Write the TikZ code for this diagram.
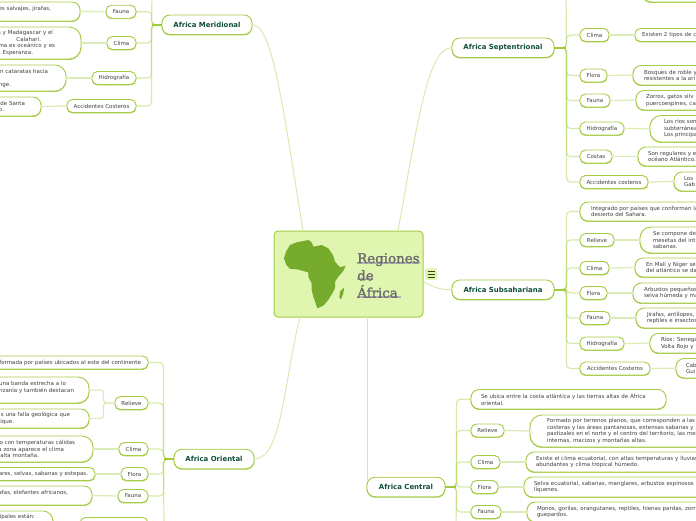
\documentclass[tikz,border=0pt]{standalone}
\usepackage{fontspec}
\usetikzlibrary{calc}
\setmainfont{DejaVu Sans}
\newfontfamily\ttlfont[FakeBold=1.5]{DejaVu Serif}
\definecolor{edge}{HTML}{A6CC47}
\definecolor{spine}{HTML}{B4D869}
\definecolor{twig}{HTML}{DCECB9}
\definecolor{stubc}{HTML}{A0CA3A}
\definecolor{rootfill}{HTML}{DFF5B0}
\definecolor{mapc}{HTML}{76AB2B}
\definecolor{txt}{HTML}{404040}
\definecolor{maintxt}{HTML}{0F4D3A}
\tikzset{
  x=1pt,y=-1pt,
  base/.style={draw=edge,line width=.9pt,fill=white,inner sep=0pt,text=txt,
     preaction={draw=edge,line width=.9pt,transform canvas={yshift=-.5pt}},
     font=\fontsize{5.5}{6.5}\selectfont},
  small/.style={base,minimum height=13pt,rounded corners=5.5pt,align=center},
  mainn/.style={base,minimum height=19.5pt,rounded corners=8pt,text=maintxt,
     font=\fontsize{6.95}{8}\selectfont\bfseries},
  bigbox/.style={base,align=left},
  br/.style={draw=spine,opacity=.55,line width=1.2pt,rounded corners=4pt},
  stub/.style={draw=stubc,line width=1.8pt},
  twigl/.style={draw=twig,line width=1.3pt},
  curve/.style={draw=twig!90!spine,line width=1pt}
}
\newcommand\snode[5]{\node[small,minimum width={(#3-#2)*1pt}] (#1) at ({(#2+#3)/2},#4) {#5};}
\newcommand\mnode[5]{\node[mainn,minimum width={(#3-#2)*1pt}] (#1) at ({(#2+#3)/2},#4) {#5};}
% name, x0, x1, y0, y1, text x, lines
\newcommand\xbox[7]{%
  \pgfmathsetmacro\tw{#3-#2-2*(#6-#2)}%
  \pgfmathsetmacro\rr{min(12,(#5-#4)*.42)}%
  \node[bigbox,minimum width={(#3-#2)*1pt},minimum height={(#5-#4)*1pt},rounded corners=\rr pt,text width=\tw pt]
    (#1) at ({(#2+#3)/2},{(#4+#5)/2}) {#7};}
\newcommand\rl[2]{\makebox[\dimexpr#1pt+36pt\relax][r]{#2}}
\newcommand\lbox[5]{\xbox{#1}{-40}{#2}{#3}{#4}{-36}{#5}}
\newcommand\rbox[6]{\xbox{#1}{#2}{740}{#3}{#4}{#5}{#6}}
\newcommand\brR[3]{\draw[br] (#1.east) -- ++(#3,0) |- (#2.west);}
\newcommand\brL[3]{\draw[br] (#1.west) -- ++(-#3,0) |- (#2.east);}
\newcommand\twR[2]{\draw[twigl] (#1.east) -- (#2.west);}
\newcommand\twL[2]{\draw[twigl] (#1.west) -- (#2.east);}
\begin{document}
\begin{tikzpicture}
\useasboundingbox (0,0) rectangle (696,520);
\clip (0,0) rectangle (696,520);
% root
\node[draw=edge,line width=1pt,fill=rootfill,rounded corners=4pt,minimum width=149pt,minimum height=86pt,inner sep=0pt] (root) at (348.5,274) {};
\fill[mapc,rounded corners=.6pt] (290,245) -- (296.7,242.3) -- (308.3,240) -- (311.7,242.3) -- (313.3,246.7) -- (321.7,245) -- (328.3,248.3) -- (333.3,255.7) -- (335,261.7) -- (340,267.3) -- (345.7,265.7) -- (343.3,271) -- (338.3,276.7) -- (335,281.7) -- (335,288.3) -- (331.7,294.3) -- (328.3,300) -- (323.3,305.7) -- (317.3,308.3) -- (315.7,303.3) -- (313.3,296.7) -- (311.7,290) -- (311.7,283.3) -- (308.3,276.7) -- (308.3,272.3) -- (303.3,271) -- (297.3,269.3) -- (290,269) -- (286,264.3) -- (284,258.3) -- (286,251.7) -- cycle;
\fill[mapc,rounded corners=.4pt] (344.3,287.3) -- (343.3,293.3) -- (341,299.3) -- (339.3,297.7) -- (340,291.7) -- cycle;
\foreach \a/\b/\c in {357/420/261.5,357/373/278,357/401/296}{\fill[black!30] (\a,\c) rectangle (\b,\c+2);}
\node[text=black!58,align=left,anchor=north west,inner sep=0pt,font=\fontsize{13.4}{17.3}\ttlfont] (title) at (357,253) {Regiones\\de\\África};
\node[draw=none,fill=rootfill,rounded corners=2pt,minimum width=12pt,minimum height=11.5pt,inner sep=0pt] (menu) at (431,274) {};
\foreach \c in {271,274,277}{\draw[black!60!mapc,line width=.8pt] ($(menu.center)+(-3.5,\c-274)$) -- ($(menu.center)+(3.5,\c-274)$);}
% meridional
\mnode{M}{162}{252}{24.7}{Africa Meridional}
\coordinate (Mtop) at (152,-8);
\snode{M1}{106}{136}{11.7}{Fauna}
\snode{M2}{107}{136}{43}{Clima}
\snode{M3}{92}{136}{78}{Hidrografía}
\snode{M4}{67}{136}{106}{Accidentes Costeros}
\lbox{M1a}{80}{2}{21}{\rl{51}{es salvajes, jirafas,}\\ \mbox{}}
\lbox{M2a}{81}{27}{59}{\rl{53}{s y Madagascar y el}\\\rl{41}{Calahari.}\\\rl{55}{ma es oceánico y es}\\\rl{33}{a Esperanza.}}
\lbox{M3a}{66}{65}{91}{\rl{48}{n cataratas hacia}\\\mbox{}\\\rl{11}{nge.}}
\lbox{M4a}{41}{97}{116}{\rl{25}{de Santa}\\\rl{4}{o.}}
\foreach \c in {M1,M2,M3,M4}{\brL{M}{\c}{10}}
\draw[br] (M.west) -- ++(-10,0) -- (Mtop);
\draw[stub] (M.west) -- ++(-10,0);
\twL{M1}{M1a}\twL{M2}{M2a}\twL{M3}{M3a}\twL{M4}{M4a}
% septentrional
\mnode{S}{452}{554}{47.7}{Africa Septentrional}
\coordinate (Stop) at (566,-8);
\snode{S1}{580}{609}{35}{Clima}
\snode{S2}{580}{607}{75.5}{Flora}
\snode{S3}{580}{610}{100.5}{Fauna}
\snode{S4}{580}{624}{128.5}{Hidrografía}
\snode{S5}{580}{612}{156.5}{Costas}
\snode{S6}{580}{648}{182}{Accidentes costeros}
\rbox{S0a}{642}{-20}{2}{652}{}
\rbox{S1a}{635}{28.5}{41.5}{642}{Existen 2 tipos de c}
\rbox{S2a}{633}{65.5}{85}{644}{Bosques de roble y\\resistentes a la ari}
\rbox{S3a}{636}{90.5}{110}{646}{Zorros, gatos silv\\puercoespines, ca}
\rbox{S4a}{650}{115.5}{142}{664}{Los ríos son\\subterránea\\Los principa}
\rbox{S5a}{638}{147}{166}{648}{Son regulares y e\\océano Atlántico.}
\rbox{S6a}{674}{172}{191}{684}{Los\\Gab}
\foreach \c in {S1,S2,S3,S4,S5,S6}{\brR{S}{\c}{12}}
\draw[br] (S.east) -- ++(12,0) -- (Stop);
\draw[stub] (S.east) -- ++(12,0);
\twR{S1}{S1a}\twR{S2}{S2a}\twR{S3}{S3a}\twR{S4}{S4a}\twR{S5}{S5a}\twR{S6}{S6a}
% subsahariana
\mnode{H}{452}{554}{289.7}{Africa Subsahariana}
\rbox{H0}{580}{202}{221}{591}{Integrado por países que conforman la\\desierto del Sahara.}
\snode{H1}{580}{614}{240}{Relieve}
\snode{H2}{580}{609}{268}{Clima}
\snode{H3}{580}{607}{293}{Flora}
\snode{H4}{580}{610}{318}{Fauna}
\snode{H5}{580}{624}{343.5}{Hidrografía}
\snode{H6}{580}{650}{368.5}{Accidentes Costeros}
\rbox{H1a}{640}{227}{253}{653}{Se compone de\\mesetas del int\\sabanas.}
\rbox{H2a}{635}{258}{277}{646}{En Malí y Níger se\\del atlántico se da}
\rbox{H3a}{633}{283}{303}{644}{Arbustos pequeños\\selva húmeda y ma}
\rbox{H4a}{636}{308}{328}{647}{Jirafas, antílopes,\\reptiles e insectos}
\rbox{H5a}{650}{333.5}{353}{661}{Ríos: Senega\\Volta Rojo y}
\rbox{H6a}{676}{358.5}{378}{686}{Cab\\Gui}
\foreach \c in {H0,H1,H2,H3,H4,H5,H6}{\brR{H}{\c}{12}}
\draw[stub] (H.east) -- ++(12,0);
\twR{H1}{H1a}\twR{H2}{H2a}\twR{H3}{H3a}\twR{H4}{H4a}\twR{H5}{H5a}\twR{H6}{H6a}
% central
\mnode{C}{367}{445}{487}{Africa Central}
\coordinate (Cend) at (456,530);
\xbox{C0}{471}{666}{389.5}{409}{481}{Se ubica entre la costa atlántica y las tierras altas de África\\oriental.}
\snode{C1}{471}{504}{430.5}{Relieve}
\snode{C2}{471}{500}{462}{Clima}
\snode{C3}{471}{498}{487}{Flora}
\snode{C4}{471}{501}{512}{Fauna}
\rbox{C1a}{530}{415}{447}{547}{Formado por terrenos planos, que corresponden a las\\costeras y las áreas pantanosas, extensas sabanas y\\pastizales en el norte y el centro del territorio, las me\\internas, macizos y montañas altas.}
\rbox{C2a}{526}{452}{472}{536}{Existe el clima ecuatorial, con altas temperaturas y lluvias\\abundantes y clima tropical húmedo.}
\rbox{C3a}{524}{477}{497}{534}{Selva ecuatorial, sabanas, manglares, arbustos espinosos\\líquenes.}
\rbox{C4a}{527}{502}{522}{537}{Monos, gorilas, orangutanes, reptiles, hienas pardas, zorr\\guepardos.}
\foreach \c in {C0,C1,C2,C3,C4}{\brR{C}{\c}{11}}
\draw[br] (C.east) -- ++(11,0) -- (Cend);
\draw[stub] (C.east) -- ++(11,0);
\twR{C1}{C1a}\twR{C2}{C2a}\twR{C3}{C3a}\twR{C4}{C4a}
% oriental
\mnode{O}{174}{254}{459}{Africa Oriental}
\coordinate (Oend) at (164,530);
\xbox{O0}{-40}{148}{356}{369}{-36}{\rl{141}{formada por países ubicados al este del continente}}
\snode{O1}{115}{148}{403}{Relieve}
\snode{O2}{119}{148}{449}{Clima}
\snode{O3}{121}{148}{474}{Flora}
\snode{O4}{118}{148}{496}{Fauna}
\snode{O5}{80}{148}{524}{}
\lbox{O1a}{89}{377}{403}{\rl{66}{una banda estrecha a lo}\\\rl{74}{nzanía y también destacan}\\\mbox{}}
\lbox{O1b}{89}{409}{428}{\rl{70}{s una falla geológica que}\\\rl{14}{ique.}}
\lbox{O2a}{93}{436}{462}{\rl{75}{o con temperaturas cálidas}\\\rl{64}{a zona aparece el clima}\\\rl{39}{alta montaña.}}
\xbox{O3a}{-40}{95}{467.5}{480.5}{-36}{\rl{88}{ares, selvas, sabanas y estepas.}}
\lbox{O4a}{92}{486}{505}{\rl{68}{afas, elefantes africanos,}\\\mbox{}}
\lbox{O5a}{53}{511}{535}{\rl{35}{cipales están:}\\\mbox{}\\\mbox{}}
\foreach \c in {O0,O1,O2,O3,O4}{\brL{O}{\c}{10}}
\draw[br] (O.west) -- ++(-10,0) -- (Oend);
\draw[stub] (O.west) -- ++(-10,0);
\draw[twigl,rounded corners=3pt] (O1.west) -- ++(-11,0) |- (O1a.east);
\draw[twigl,rounded corners=3pt] (O1.west) -- ++(-11,0) |- (O1b.east);
\twL{O2}{O2a}\twL{O3}{O3a}\twL{O4}{O4a}
% root links
\coordinate (rM) at (303,231);
\coordinate (rS) at (398,231);
\coordinate (rO) at (300,317);
\coordinate (rC) at (367,317);
\coordinate (rH) at (423,281);
\coordinate (Cin) at (367,480);
\draw[curve] (M.east) .. controls (272,25) and (282,100) .. (rM);
\draw[curve] (S.west) .. controls (428,48) and (418,120) .. (rS);
\draw[curve] (O.east) .. controls (282,459) and (284,380) .. (rO);
\draw[curve] (rC) -- (Cin);
\draw[curve] (rH) .. controls (432,287) and (440,290) .. (H.west);
\end{tikzpicture}
\end{document}
